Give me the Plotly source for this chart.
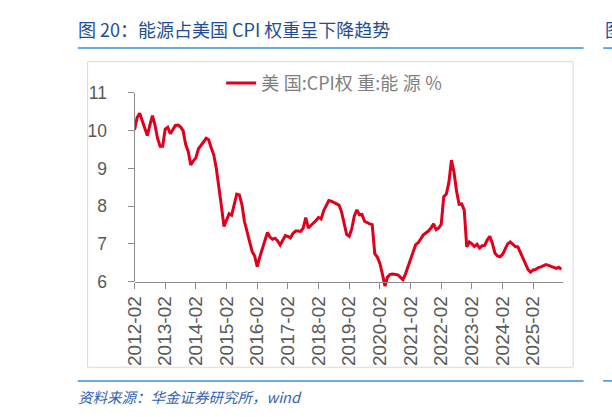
import pandas as pd
import plotly.graph_objects as go

# ---------------- data ----------------
start_month = "2012-02"
energy_weight = [
    10.02, 10.35, 10.46, 10.25, 10.05, 9.87, 10.15, 10.40, 10.15, 9.80, 9.59, 9.59,
    10.04, 10.09, 9.92, 10.05, 10.14, 10.15, 10.10, 10.00, 9.64, 9.45, 9.09, 9.20,
    9.28, 9.52, 9.60, 9.70, 9.80, 9.76, 9.55, 9.36, 9.00, 8.55, 8.00, 7.46,
    7.62, 7.80, 7.76, 8.05, 8.32, 8.30, 8.05, 7.60, 7.33, 7.05, 6.80, 6.68,
    6.40, 6.65, 6.88, 7.10, 7.30, 7.18, 7.12, 7.15, 7.08, 6.97, 7.08, 7.22,
    7.20, 7.16, 7.28, 7.34, 7.34, 7.33, 7.42, 7.70, 7.42, 7.48, 7.55, 7.62,
    7.70, 7.66, 7.88, 8.02, 8.15, 8.13, 8.10, 8.07, 8.03, 7.85, 7.58, 7.25,
    7.20, 7.40, 7.74, 7.90, 7.77, 7.78, 7.60, 7.56, 7.53, 7.51, 6.74, 6.65,
    6.48, 6.20, 5.88, 6.12, 6.19, 6.20, 6.20, 6.18, 6.12, 6.05, 6.20, 6.40,
    6.62, 6.80, 6.98, 7.03, 7.15, 7.24, 7.29, 7.34, 7.42, 7.53, 7.38, 7.42,
    7.52, 8.25, 8.32, 8.63, 9.22, 8.90, 8.40, 8.05, 8.06, 7.90, 6.92, 7.05,
    7.00, 6.93, 6.99, 6.89, 6.95, 6.96, 7.10, 7.20, 7.02, 6.76, 6.68, 6.66,
    6.72, 6.86, 7.00, 7.05, 7.00, 6.93, 6.92, 6.76, 6.60, 6.47, 6.32, 6.25,
    6.31, 6.32, 6.37, 6.39, 6.41, 6.45, 6.43, 6.41, 6.39, 6.35, 6.38, 6.33,
]
months = [p.strftime("%Y-%m") for p in pd.period_range(start_month, periods=len(energy_weight), freq="M")]
x_tick_labels = [m for m in months if m.endswith("-02")]
y_tick_values = [6, 7, 8, 9, 10, 11]

series_name = "美\u2005国:CPI权\u2005重:能\u2005源\u2005%"
title_text = "图 20：能源占美国 CPI 权重呈下降趋势"
source_text = "资料来源：华金证券研究所，wind"

# ---------------- layout helpers ----------------
W, H = 612, 417
def px(x):
    return x / W
def py(y):
    return (H - y) / H

FONT = "Arial, Liberation Sans, Noto Sans CJK SC, sans-serif"
CJK = "Noto Sans CJK SC, Liberation Sans, sans-serif"
AXIS_GRAY = "#8c8c8c"
LABEL_GRAY = "#595959"
RED = "#e0001b"
BLUE_LINE = "#3a8fd9"
TITLE_BLUE = "#1f4e96"

y_lo, y_hi = 5.72, 11.0
y_top_px, y6_px = 85.0, 278.3
unit = (y6_px - y_top_px) / (11 - 6)
y_bot_px = y6_px + (6 - y_lo) * unit

fig = go.Figure()
fig.add_trace(go.Scatter(
    x=months, y=energy_weight, mode="lines", name=series_name,
    line=dict(color=RED, width=3), showlegend=True,
))

fig.update_layout(
    width=W, height=H,
    margin=dict(l=0, r=0, t=0, b=0),
    paper_bgcolor="white", plot_bgcolor="white",
    font=dict(family=FONT, color=LABEL_GRAY),
    showlegend=True,
    legend=dict(
        x=px(214), y=py(75), xanchor="left", yanchor="middle",
        orientation="h", bgcolor="rgba(0,0,0,0)",
        font=dict(family=CJK, size=18, color="#7f7f7f"),
        itemwidth=30,
    ),
    xaxis=dict(
        type="category",
        domain=[px(125.8), px(561.7)],
        range=[0, len(energy_weight) - 0.5],
        anchor="free", position=py(y6_px),
        showline=True, linecolor=AXIS_GRAY, linewidth=1,
        ticks="outside", ticklen=6, tickcolor=AXIS_GRAY,
        tickmode="array", tickvals=x_tick_labels, ticktext=x_tick_labels,
        tickangle=-90, tickfont=dict(size=19, color=LABEL_GRAY, family=FONT),
        showgrid=False, zeroline=False,
    ),
    yaxis=dict(
        domain=[py(y_bot_px), py(y_top_px)],
        range=[y_lo, y_hi],
        showline=False,
        ticks="outside", ticklen=6, tickcolor=AXIS_GRAY,
        tickmode="array", tickvals=y_tick_values,
        tickfont=dict(size=17.5, color=LABEL_GRAY, family=FONT),
        ticklabelstandoff=17,
        showgrid=False, zeroline=False,
    ),
)

shapes = [
    # y axis line only from 6 to 11
    dict(type="line", xref="paper", yref="y", x0=px(125.8), x1=px(125.8), y0=6, y1=11,
         line=dict(color=AXIS_GRAY, width=1)),
    # chart frame
    dict(type="rect", xref="paper", yref="paper", x0=px(78), x1=px(572.5), y0=py(366), y1=py(53),
         line=dict(color="#d9d9d9", width=1), layer="below"),
    # blue rules
    dict(type="line", xref="paper", yref="paper", x0=px(68), x1=px(583), y0=py(39), y1=py(39),
         line=dict(color=BLUE_LINE, width=1.5)),
    dict(type="line", xref="paper", yref="paper", x0=px(68), x1=px(583), y0=py(380), y1=py(380),
         line=dict(color=BLUE_LINE, width=1.5)),
    # neighbouring panel edge on the right
    dict(type="line", xref="paper", yref="paper", x0=px(603), x1=px(612), y0=py(39), y1=py(39),
         line=dict(color=BLUE_LINE, width=1.5)),
    dict(type="line", xref="paper", yref="paper", x0=px(603), x1=px(612), y0=py(380), y1=py(380),
         line=dict(color=BLUE_LINE, width=1.5)),
]
fig.update_layout(shapes=shapes)

fig.add_annotation(
    x=px(66), y=py(19), xref="paper", yref="paper", xanchor="left", yanchor="middle",
    text=title_text, showarrow=False,
    font=dict(family=CJK, size=18, color=TITLE_BLUE),
)
fig.add_annotation(
    x=px(603), y=py(19), xref="paper", yref="paper", xanchor="left", yanchor="middle",
    text="图", showarrow=False,
    font=dict(family=CJK, size=18, color=TITLE_BLUE),
)
fig.add_annotation(
    x=px(66), y=py(396), xref="paper", yref="paper", xanchor="left", yanchor="middle",
    text="<i>" + source_text + "</i>", showarrow=False,
    font=dict(family=CJK, size=14.5, color="#2f5fb0"),
)

fig.write_html("out.html")
